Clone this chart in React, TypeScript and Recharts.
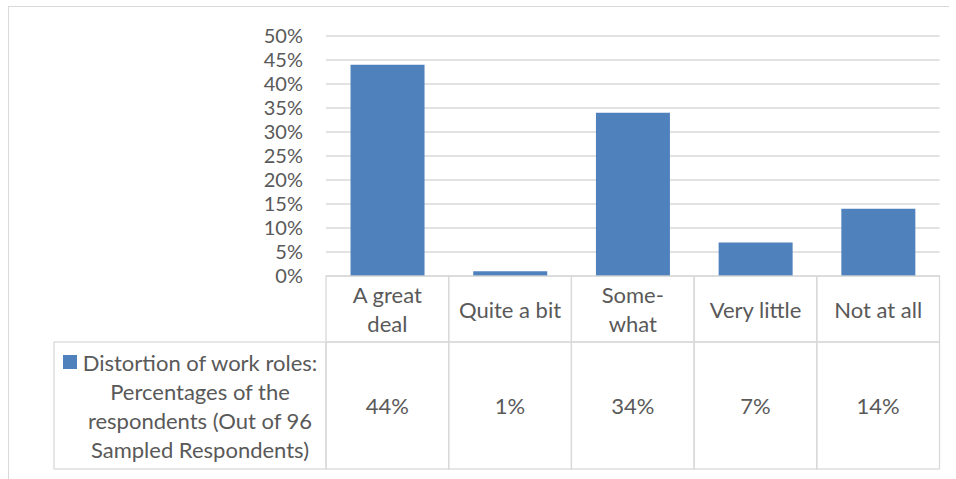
import { Bar, BarChart, CartesianGrid, XAxis, YAxis } from "recharts";

// categories as shown in the data table header (line breaks kept)
const categories = ["A great\ndeal", "Quite a bit", "Some-\nwhat", "Very little", "Not at all"];
const percentages = [44, 1, 34, 7, 14];
const yTicks = [0, 5, 10, 15, 20, 25, 30, 35, 40, 45, 50];
const seriesLabel = [
  "Distortion of work roles:",
  "Percentages of the",
  "respondents (Out of 96",
  "Sampled Respondents)",
];

const data = categories.map((category, i) => ({ category, value: percentages[i] }));

const WIDTH = 956;
const HEIGHT = 479;
const PLOT_LEFT = 326;
const PLOT_RIGHT = 939.5;
const PLOT_TOP = 36;
const PLOT_BOTTOM = 276;
const HEADER_H = 66;
const ROW_H = 127;
const LEGEND_LEFT = 54;
const BAND = (PLOT_RIGHT - PLOT_LEFT) / categories.length;
const LINE = 28.5;

const BLUE = "#4F81BD";
const GRID = "#D9D9D9";
const TEXT = "#595959";
const FONT = "Lato, 'Noto Sans', sans-serif";
const AXIS_SIZE = 20;
const TABLE_SIZE = 22;

function TableTick(props: any) {
  const { x, y, payload } = props;
  const idx = categories.indexOf(payload.value);
  const left = x - BAND / 2;
  const lines = String(payload.value).split("\n");
  const headerMid = y + HEADER_H / 2;
  const rowMid = y + HEADER_H + ROW_H / 2;
  const textProps = {
    textAnchor: "middle" as const,
    dominantBaseline: "central" as const,
    fill: TEXT,
    fontSize: TABLE_SIZE,
    fontFamily: FONT,
  };

  return (
    <g>
      <rect x={left} y={y} width={BAND} height={HEADER_H} fill="none" stroke={GRID} strokeWidth={1.3} />
      <rect x={left} y={y + HEADER_H} width={BAND} height={ROW_H} fill="none" stroke={GRID} strokeWidth={1.3} />
      {lines.map((line, i) => (
        <text key={i} x={x} y={headerMid + (i - (lines.length - 1) / 2) * LINE} {...textProps}>
          {line}
        </text>
      ))}
      <text x={x} y={rowMid} {...textProps}>
        {percentages[idx]}%
      </text>
      {idx === 0 && (
        <g>
          <rect
            x={LEGEND_LEFT}
            y={y + HEADER_H}
            width={left - LEGEND_LEFT}
            height={ROW_H}
            fill="none"
            stroke={GRID}
            strokeWidth={1.3}
          />
          <rect x={63} y={rowMid - 50.5} width={14} height={14} fill={BLUE} />
          {seriesLabel.map((line, i) => (
            <text
              key={i}
              x={(LEGEND_LEFT + left) / 2 + 10}
              y={rowMid + (i - (seriesLabel.length - 1) / 2) * 29}
              {...textProps}
            >
              {line}
            </text>
          ))}
        </g>
      )}
    </g>
  );
}

export default function App() {
  return (
    <div style={{ position: "absolute", left: 0, top: 0, width: WIDTH, height: HEIGHT, background: "#fff", overflow: "hidden" }}>
      <div
        style={{
          position: "absolute",
          left: 8,
          top: 6,
          width: 940,
          height: 500,
          borderLeft: `1.5px solid ${GRID}`,
          borderTop: `1.5px solid ${GRID}`,
        }}
      />
      <div style={{ position: "absolute", left: 0, top: 0 }}>
        <BarChart
          width={WIDTH}
          height={HEIGHT}
          data={data}
          margin={{ top: PLOT_TOP, right: WIDTH - PLOT_RIGHT, bottom: 0, left: 0 }}
          barCategoryGap="20%"
        >
          <CartesianGrid horizontal vertical={false} stroke={GRID} strokeWidth={1.3} />
          <YAxis
            width={PLOT_LEFT}
            domain={[0, 50]}
            ticks={yTicks}
            interval={0}
            axisLine={false}
            tickLine={false}
            tickSize={0}
            tickMargin={23}
            tickFormatter={(v) => `${v}%`}
            tick={{ fill: TEXT, fontSize: AXIS_SIZE, fontFamily: FONT }}
          />
          <XAxis
            dataKey="category"
            height={HEIGHT - PLOT_BOTTOM}
            axisLine={false}
            tickLine={false}
            tickSize={0}
            tickMargin={0}
            interval={0}
            tick={<TableTick />}
          />
          <Bar dataKey="value" fill={BLUE} isAnimationActive={false} />
        </BarChart>
      </div>
    </div>
  );
}
